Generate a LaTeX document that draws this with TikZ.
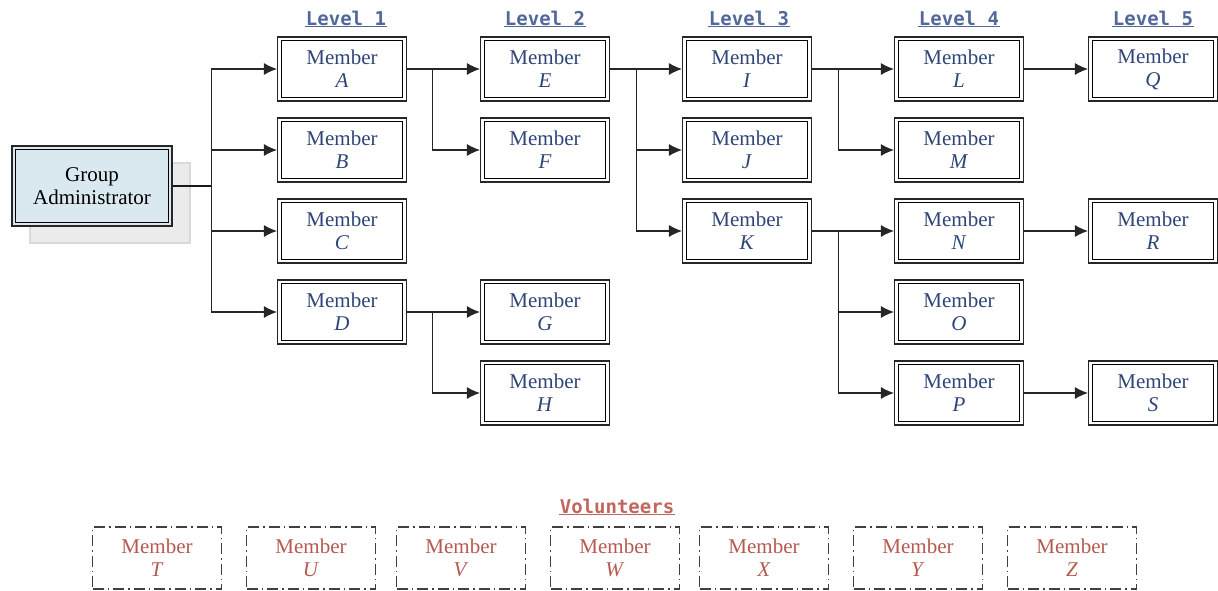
\documentclass[tikz,border=0pt]{standalone}
\usepackage{fontspec}
\setmainfont{Liberation Serif}
\newfontfamily\hdrfont{DejaVu Sans Mono}
\usetikzlibrary{arrows.meta,calc}
\definecolor{memtxt}{HTML}{2F4578}
\definecolor{hdrcol}{HTML}{52679A}
\definecolor{voltxt}{HTML}{B65A4F}
\definecolor{volhdr}{HTML}{C0675D}
\definecolor{adminfill}{HTML}{DAE8F0}
\tikzset{
  innerframe/.style={path picture={\draw[black, line width=1.1pt]
      ([shift={(3.6pt,-3.6pt)}]path picture bounding box.north west) rectangle
      ([shift={(-3.6pt,3.6pt)}]path picture bounding box.south east);}},
  member/.style={draw=black!85, line width=1.1pt, innerframe,
    minimum width=129pt, minimum height=64pt, inner sep=0pt, align=center,
    font=\fontsize{21}{23}\selectfont, text=memtxt},
  admin/.style={draw=black!85, line width=1.1pt, innerframe,
    fill=adminfill, minimum width=160pt, minimum height=80pt, inner sep=0pt, align=center,
    font=\fontsize{21}{23}\selectfont},
  shadowbox/.style={draw=black!15, fill=black!8, line width=2pt, minimum width=160pt, minimum height=80pt},
  vol/.style={draw=black!75, line width=1.1pt, dash pattern=on 11pt off 4pt on 1.5pt off 4pt,
    minimum width=129pt, minimum height=62pt, inner sep=0pt, align=center,
    font=\fontsize{21}{23}\selectfont, text=voltxt},
  hdr/.style={font=\hdrfont\bfseries\fontsize{19}{22}\selectfont, text=hdrcol, inner sep=1pt},
  vhdr/.style={font=\hdrfont\bfseries\fontsize{19}{22}\selectfont, text=volhdr, inner sep=1pt},
  arr/.style={line width=1.1pt, draw=black!85, -{Latex[length=13pt,width=12pt]}},
  ln/.style={line width=1.3pt, draw=black!90},
}
\begin{document}
\begin{tikzpicture}[x=1pt,y=-1pt]
\useasboundingbox (0,0) rectangle (1218,591);
% headers
\node[hdr] (h1) at (346,18) {Level 1};
\node[hdr] (h2) at (545,18) {Level 2};
\node[hdr] (h3) at (749,18) {Level 3};
\node[hdr] (h4) at (959,18) {Level 4};
\node[hdr] (h5) at (1153,18) {Level 5};
\foreach \h in {h1,h2,h3,h4,h5}{
  \draw[hdrcol, line width=1.3pt] (\h.south west) -- (\h.south east);
}
% admin
\node[shadowbox] (shadow) at (110,203) {};
\node[admin] (adm) at (92,186) {Group\\Administrator};
% members
\node[member] (A) at (342,69) {Member\\\textit{A}};
\node[member] (B) at (342,150) {Member\\\textit{B}};
\node[member] (C) at (342,231) {Member\\\textit{C}};
\node[member] (D) at (342,312) {Member\\\textit{D}};
\node[member] (E) at (545,69) {Member\\\textit{E}};
\node[member] (F) at (545,150) {Member\\\textit{F}};
\node[member] (G) at (545,312) {Member\\\textit{G}};
\node[member] (H) at (545,393) {Member\\\textit{H}};
\node[member] (I) at (747,69) {Member\\\textit{I}};
\node[member] (J) at (747,150) {Member\\\textit{J}};
\node[member] (K) at (747,231) {Member\\\textit{K}};
\node[member] (L) at (959,69) {Member\\\textit{L}};
\node[member] (M) at (959,150) {Member\\\textit{M}};
\node[member] (N) at (959,231) {Member\\\textit{N}};
\node[member] (O) at (959,312) {Member\\\textit{O}};
\node[member] (P) at (959,393) {Member\\\textit{P}};
\node[member] (Q) at (1153,69) {Member\\\textit{Q}};
\node[member] (R) at (1153,231) {Member\\\textit{R}};
\node[member] (S) at (1153,393) {Member\\\textit{S}};
% admin connectors
\draw[ln] (adm.east) -- ++(39,0) coordinate (t0);
\draw[arr] (t0) |- (A.west);
\draw[arr] (t0) |- (B.west);
\draw[arr] (t0) |- (C.west);
\draw[arr] (t0) |- (D.west);
% A
\draw[arr] (A.east) -- (E.west);
\draw[arr] (A.east) -- ++(25,0) |- (F.west);
% D
\draw[arr] (D.east) -- (G.west);
\draw[arr] (D.east) -- ++(25,0) |- (H.west);
% E
\draw[arr] (E.east) -- (I.west);
\draw[arr] (E.east) -- ++(26,0) |- (J.west);
\draw[arr] (E.east) -- ++(26,0) |- (K.west);
% I
\draw[arr] (I.east) -- (L.west);
\draw[arr] (I.east) -- ++(26,0) |- (M.west);
% K
\draw[arr] (K.east) -- (N.west);
\draw[arr] (K.east) -- ++(26,0) |- (O.west);
\draw[arr] (K.east) -- ++(26,0) |- (P.west);
% level 5
\draw[arr] (L.east) -- (Q.west);
\draw[arr] (N.east) -- (R.west);
\draw[arr] (P.east) -- (S.west);
% volunteers
\node[vhdr] (vh) at (617,506) {Volunteers};
\draw[volhdr, line width=1.3pt] (vh.south west) -- (vh.south east);
\node[vol] (T) at (157,558) {Member\\\textit{T}};
\node[vol] (U) at (311,558) {Member\\\textit{U}};
\node[vol] (V) at (461,558) {Member\\\textit{V}};
\node[vol] (W) at (615,558) {Member\\\textit{W}};
\node[vol] (X) at (764,558) {Member\\\textit{X}};
\node[vol] (Y) at (918,558) {Member\\\textit{Y}};
\node[vol] (Z) at (1072,558) {Member\\\textit{Z}};
\end{tikzpicture}
\end{document}
